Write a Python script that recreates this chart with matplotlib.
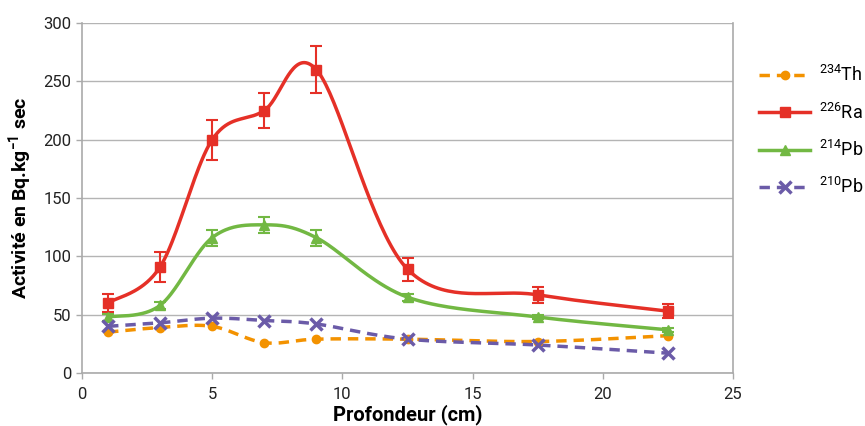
import numpy as np
import matplotlib
matplotlib.use("Agg")
import matplotlib.pyplot as plt

depth = [1, 3, 5, 7, 9, 12.5, 17.5, 22.5]
th234 = [35, 39, 40, 26, 29, 29, 27, 32]
ra226 = [60, 91, 200, 225, 260, 89, 67, 53]
ra226_err = [8, 13, 17, 15, 20, 10, 7, 6]
pb214 = [48, 58, 116, 127, 116, 65, 48, 37]
pb214_err = [3, 3, 7, 7, 7, 3, 2, 2]
pb210 = [40, 43, 47, 45, 42, 29, 24, 17]

x_ticks = [0, 5, 10, 15, 20, 25]
y_ticks = [0, 50, 100, 150, 200, 250, 300]


def smooth(xs, ys, n=40):
    P = np.column_stack([xs, ys]).astype(float)
    m = len(P)
    out = []
    for i in range(m - 1):
        p0 = P[i - 1] if i > 0 else P[i]
        p1 = P[i]
        p2 = P[i + 1]
        p3 = P[i + 2] if i + 2 < m else P[i + 1]
        c1 = p1 + (p2 - p0) / 6.0
        c2 = p2 - (p3 - p1) / 6.0
        t = np.linspace(0, 1, n)[:, None]
        seg = ((1 - t) ** 3) * p1 + 3 * ((1 - t) ** 2) * t * c1 + 3 * (1 - t) * t ** 2 * c2 + t ** 3 * p2
        out.append(seg if i == 0 else seg[1:])
    s = np.vstack(out)
    return s[:, 0], s[:, 1]


plt.rcParams['font.family'] = ['Roboto', 'DejaVu Sans']

fig = plt.figure(figsize=(8.65, 4.26), dpi=100)
ax = fig.add_axes([82 / 865, 53 / 426, (733 - 82) / 865, (373 - 23) / 426])

c_th = '#F39200'
c_ra = '#E53027'
c_pb4 = '#72B843'
c_pb0 = '#6B5BA8'

series = [
    (th234, None, c_th, 'o', '--', r'$^{\mathregular{234}}$Th', 6),
    (ra226, ra226_err, c_ra, 's', '-', r'$^{\mathregular{226}}$Ra', 7),
    (pb214, pb214_err, c_pb4, '^', '-', r'$^{\mathregular{214}}$Pb', 7),
    (pb210, None, c_pb0, 'x', '--', r'$^{\mathregular{210}}$Pb', 9),
]

handles = []
for ys, err, col, mk, ls, lab, ms in series:
    sx, sy = smooth(depth, ys)
    ax.plot(sx, sy, color=col, lw=2.5, ls=ls, dashes=(3, 2) if ls == '--' else (None, None), zorder=3)
    if err is not None:
        ax.errorbar(depth, ys, yerr=err, fmt='none', ecolor=col, elinewidth=1.5, capsize=4, capthick=1.5, zorder=4)
    ax.plot(depth, ys, ls='none', marker=mk, color=col, ms=ms, mew=2.5 if mk == 'x' else 1, zorder=5)
    h, = ax.plot([], [], color=col, lw=2.5, ls=ls, marker=mk, ms=ms, mew=2.5 if mk == 'x' else 1, label=lab)
    if ls == '--':
        h.set_dashes((3, 2))
    handles.append(h)

ax.set_xlim(0, 25)
ax.set_ylim(0, 300)
ax.set_xticks(x_ticks)
ax.set_yticks(y_ticks)
ax.tick_params(axis='both', labelsize=12, colors='#222222', length=4, color='#AAAAAA', width=1)
ax.tick_params(axis='x', direction='out', pad=6)
ax.grid(axis='y', color='#B4B4B4', lw=1)
ax.set_axisbelow(True)
for side in ['left', 'bottom', 'right']:
    ax.spines[side].set_color('#AAAAAA')
    ax.spines[side].set_linewidth(1.2)
ax.spines['top'].set_visible(False)

ax.set_xlabel('Profondeur (cm)', fontsize=14.5, fontweight='bold', labelpad=2)
ax.set_ylabel(r'Activité en Bq.kg$^{\mathregular{-1}}$ sec', fontsize=14, fontweight='bold', labelpad=6)

leg = fig.legend(handles=handles, loc='upper left', bbox_to_anchor=(752 / 865, 1 - 58 / 426),
                 frameon=False, fontsize=13, handlelength=2.8, labelspacing=0.95, handletextpad=0.5,
                 borderaxespad=0)

fig.savefig('out.png', dpi=100)
